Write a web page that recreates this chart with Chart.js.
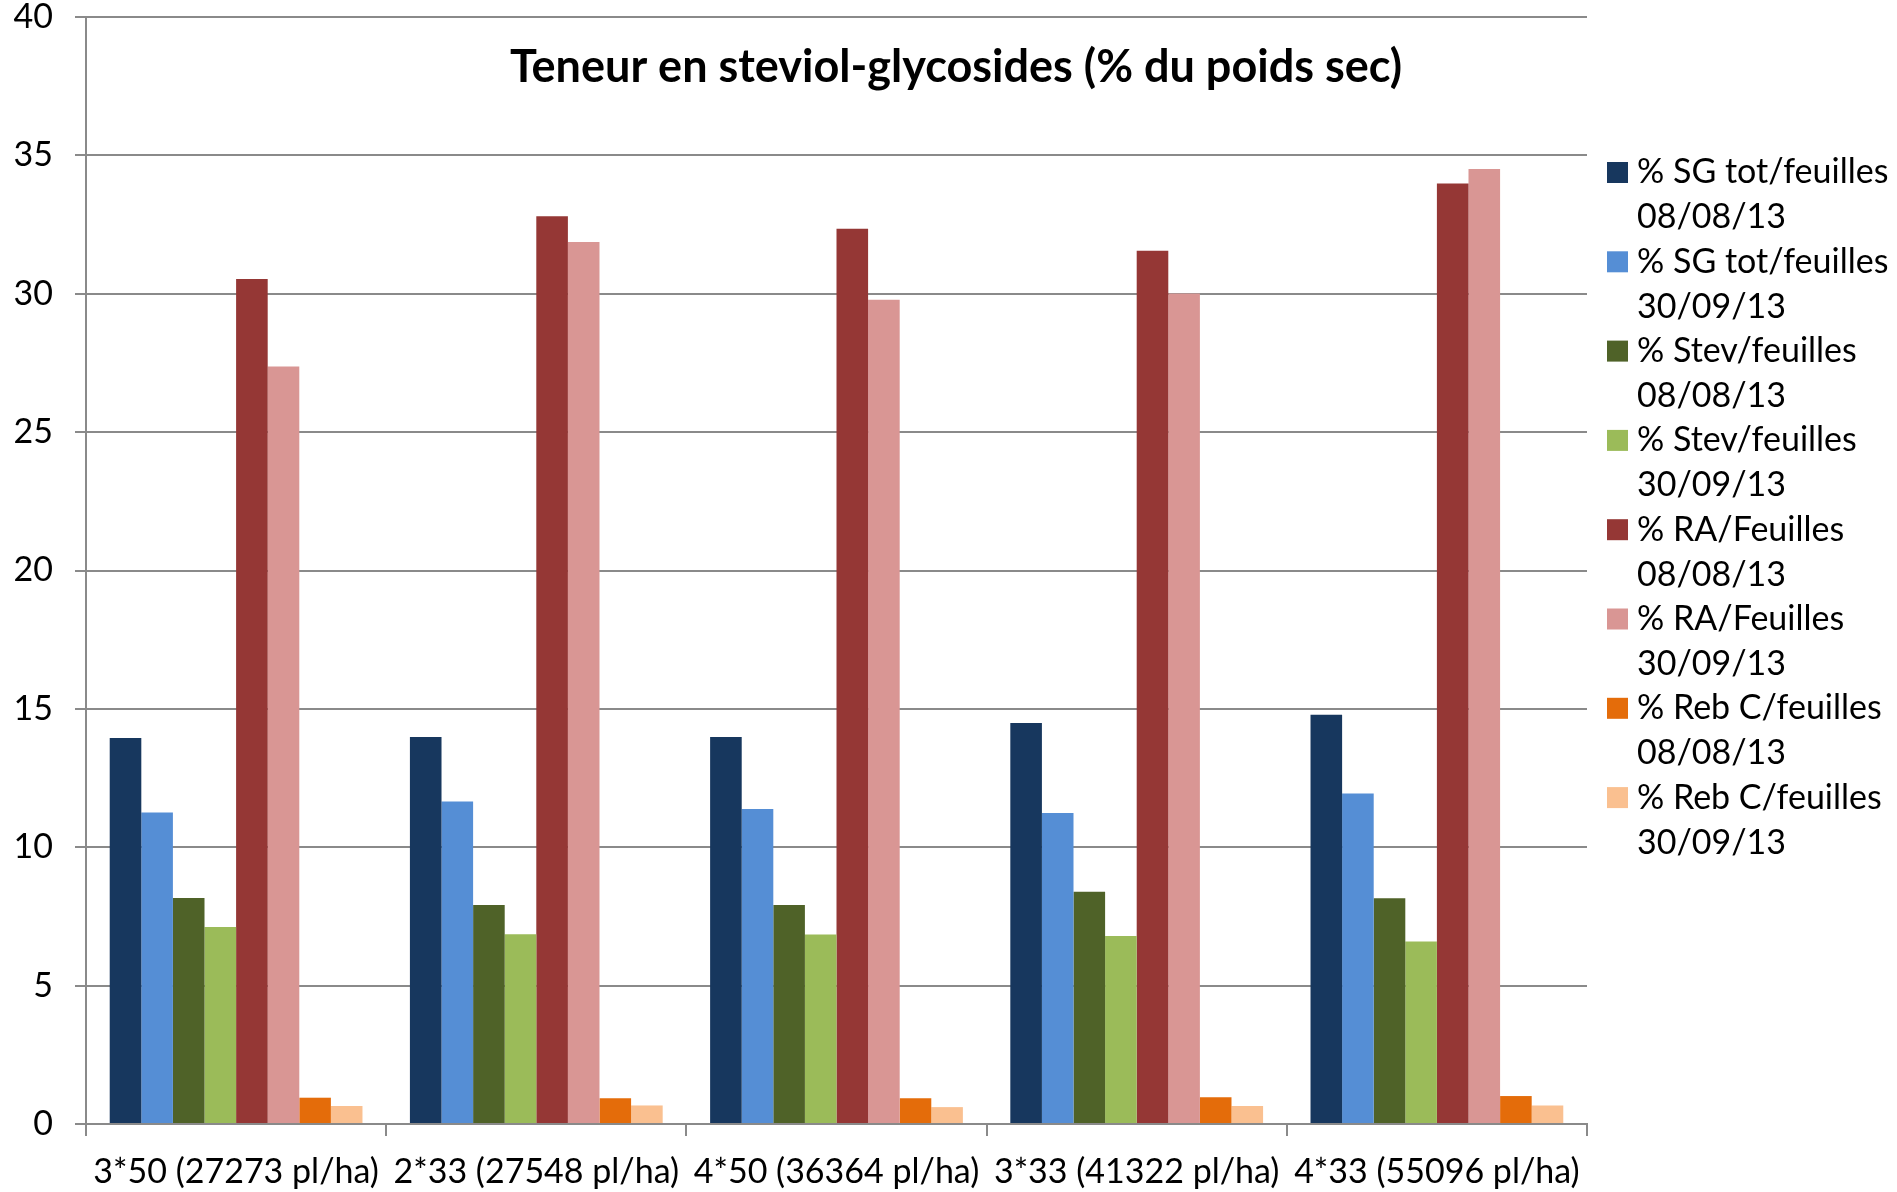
<!DOCTYPE html>
<html>
<head>
<meta charset="utf-8">
<script src="https://cdn.jsdelivr.net/npm/chart.js@4/dist/chart.umd.min.js"></script>
<style>
  html, body { margin: 0; padding: 0; background: #ffffff; }
  #wrap { width: 1897px; height: 1192px; position: relative; }
</style>
</head>
<body>
<div id="wrap"><canvas id="c" width="1897" height="1192"></canvas></div>
<script>
// ---- Data ----
const categories = ["3*50 (27273 pl/ha)", "2*33 (27548 pl/ha)", "4*50 (36364 pl/ha)", "3*33 (41322 pl/ha)", "4*33 (55096 pl/ha)"];
const seriesLabels = [
  ["% SG tot/feuilles", "08/08/13"],
  ["% SG tot/feuilles", "30/09/13"],
  ["% Stev/feuilles", "08/08/13"],
  ["% Stev/feuilles", "30/09/13"],
  ["% RA/Feuilles", "08/08/13"],
  ["% RA/Feuilles", "30/09/13"],
  ["% Reb C/feuilles", "08/08/13"],
  ["% Reb C/feuilles", "30/09/13"]
];
const sgTot0808 = [13.95, 13.98, 13.98, 14.49, 14.79];
const sgTot3009 = [11.26, 11.65, 11.38, 11.24, 11.94];
const stev0808  = [8.17, 7.91, 7.91, 8.39, 8.16];
const stev3009  = [7.12, 6.86, 6.85, 6.79, 6.59];
const ra0808    = [30.53, 32.80, 32.35, 31.55, 33.98];
const ra3009    = [27.37, 31.87, 29.78, 30.01, 34.51];
const rebC0808  = [0.95, 0.93, 0.93, 0.97, 1.01];
const rebC3009  = [0.65, 0.67, 0.61, 0.65, 0.67];
const yTicks = [0, 5, 10, 15, 20, 25, 30, 35, 40];
const chartTitle = "Teneur en steviol-glycosides (% du poids sec)";

const seriesValues = [sgTot0808, sgTot3009, stev0808, stev3009, ra0808, ra3009, rebC0808, rebC3009];
const seriesColors = ["#17375E", "#558ED5", "#4F6228", "#9BBB59", "#953735", "#D99694", "#E46C0A", "#FAC090"];

const FONT = "Lato, 'Open Sans', sans-serif";
const gridColor = "#8a8a8a";

const datasets = seriesValues.map((vals, i) => ({
  label: seriesLabels[i].join(" "),
  data: vals,
  backgroundColor: seriesColors[i],
  borderWidth: 0,
  barPercentage: 1.0,
  categoryPercentage: 0.842
}));

const titlePlugin = {
  id: 'insideTitle',
  afterDraw(chart) {
    const ctx = chart.ctx;
    ctx.save();
    ctx.font = "bold 45px " + FONT;
    ctx.fillStyle = "#000";
    ctx.textAlign = "center";
    ctx.textBaseline = "middle";
    ctx.fillText(chartTitle, 956, 67);
    ctx.restore();
  }
};

const legendPlugin = {
  id: 'sideLegend',
  afterDraw(chart) {
    const ctx = chart.ctx;
    ctx.save();
    ctx.font = "34px " + FONT;
    ctx.textAlign = "left";
    ctx.textBaseline = "middle";
    chart.data.datasets.forEach((ds, i) => {
      const y1 = 172.5 + i * 89.3;
      ctx.fillStyle = ds.backgroundColor;
      ctx.fillRect(1607, y1 - 10.5, 21, 21);
      ctx.fillStyle = "#000";
      ctx.fillText(seriesLabels[i][0], 1637, y1);
      ctx.fillText(seriesLabels[i][1], 1637, y1 + 45);
    });
    ctx.restore();
  }
};

new Chart(document.getElementById('c'), {
  type: 'bar',
  data: { labels: categories, datasets: datasets },
  options: {
    responsive: false,
    animation: false,
    devicePixelRatio: 1,
    layout: { padding: { top: 17, right: 310, bottom: 0, left: 0 } },
    plugins: {
      legend: { display: false },
      title: { display: false },
      tooltip: { enabled: false }
    },
    scales: {
      x: {
        type: 'category',
        offset: true,
        afterFit(scale) { scale.height = 68; scale.paddingLeft = 0; scale.paddingRight = 0; },
        grid: {
          display: true,
          drawOnChartArea: false,
          drawTicks: true,
          tickLength: 12,
          offset: true,
          color: gridColor,
          lineWidth: 2
        },
        border: { display: true, color: gridColor, width: 2 },
        ticks: {
          color: "#000",
          font: { family: FONT, size: 34 },
          padding: 16,
          maxRotation: 0,
          autoSkip: false
        }
      },
      y: {
        min: yTicks[0],
        max: yTicks[yTicks.length - 1],
        afterFit(scale) { scale.width = 86; scale.paddingTop = 0; scale.paddingBottom = 0; },
        afterBuildTicks(scale) { scale.ticks = yTicks.map(v => ({ value: v })); },
        grid: {
          color: gridColor,
          lineWidth: 2,
          drawTicks: true,
          tickLength: 11
        },
        border: { display: true, color: gridColor, width: 2 },
        ticks: {
          color: "#000",
          font: { family: FONT, size: 34 },
          padding: 22
        }
      }
    }
  },
  plugins: [titlePlugin, legendPlugin]
});
</script>
</body>
</html>
